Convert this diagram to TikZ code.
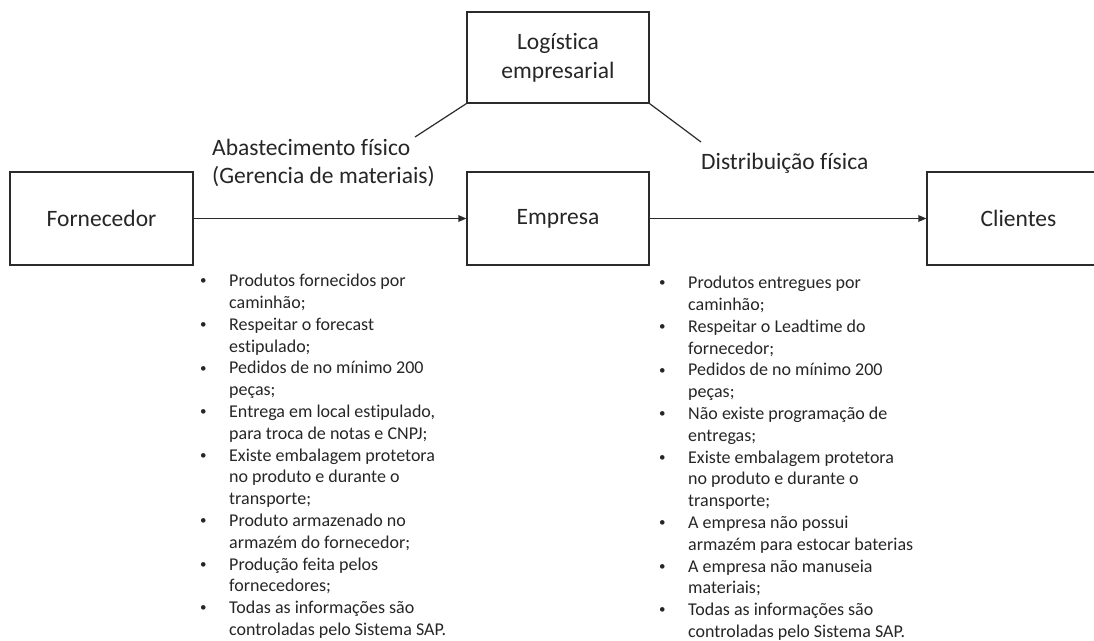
\documentclass[tikz,border=0pt]{standalone}
\usepackage{fontspec}
\setmainfont{Carlito}[Ligatures={NoCommon,NoRare}]
\usetikzlibrary{arrows.meta}
\definecolor{txt}{HTML}{262626}
\definecolor{edge}{HTML}{2B2B2B}
\newcommand{\lbul}{\makebox[30.5pt][l]{\hspace{1.5pt}\raisebox{1.8pt}{\fontsize{13}{13}\selectfont •}}}
\tikzset{
  box/.style={draw=edge, line width=1.2pt, inner sep=0pt, text=txt,
    font=\fontsize{23.5}{28.7}\selectfont, align=center},
  lbl/.style={inner sep=0pt, text=txt, font=\fontsize{23.5}{28.7}\selectfont, align=left},
  conn/.style={draw=edge, line width=1.2pt},
  arr/.style={conn, -{Triangle[length=8pt,width=6.5pt]}},
  lst/.style={inner sep=0pt, text=txt, font=\fontsize{18}{21.8}\selectfont, anchor=north west}
}
\begin{document}
\begin{tikzpicture}[x=1pt,y=-1pt]
\useasboundingbox (0,0) rectangle (1094,640);
\clip (0,0) rectangle (1094,640);
\fill[white] (0,0) rectangle (1094,640);

\node[box, minimum width=183pt, minimum height=93pt] (forn) at (101.5,218.5) {Fornecedor};
\node[box, minimum width=182pt, minimum height=93pt] (emp) at (558,218.5) {Empresa};
\node[box, minimum width=183pt, minimum height=93pt] (cli) at (1018.5,218.5) {Clientes};
\node[box, minimum width=182pt, minimum height=91pt] (log) at (558,57.5) {Logística\\empresarial};

\draw[arr] (forn.east) -- (emp.west);
\draw[arr] (emp.east) -- (cli.west);

\coordinate (a1) at (415,137);
\coordinate (a2) at (701,142);
\draw[conn] (log.south west) -- (a1);
\draw[conn] (log.south east) -- (a2);

\node[lbl, anchor=west] (abast) at (212,163) {Abastecimento físico\\(Gerencia de materiais)};
\node[lbl, anchor=base west] (dist) at (701,169) {Distribuição física};

\node[lst] (l1) at (198.5,271.2) {\begin{tabular}{@{}l@{}l@{}}
\lbul & Produtos fornecidos por\\
 & caminhão;\\
\lbul & Respeitar o forecast\\
 & estipulado;\\
\lbul & Pedidos de no mínimo 200\\
 & peças;\\
\lbul & Entrega em local estipulado,\\
 & para troca de notas e CNPJ;\\
\lbul & Existe embalagem protetora\\
 & no produto e durante o\\
 & transporte;\\
\lbul & Produto armazenado no\\
 & armazém do fornecedor;\\
\lbul & Produção feita pelos\\
 & fornecedores;\\
\lbul & Todas as informações são\\
 & controladas pelo Sistema SAP.
\end{tabular}};

\node[lst] (l2) at (657.5,273.2) {\begin{tabular}{@{}l@{}l@{}}
\lbul & Produtos entregues por\\
 & caminhão;\\
\lbul & Respeitar o Leadtime do\\
 & fornecedor;\\
\lbul & Pedidos de no mínimo 200\\
 & peças;\\
\lbul & Não existe programação de\\
 & entregas;\\
\lbul & Existe embalagem protetora\\
 & no produto e durante o\\
 & transporte;\\
\lbul & A empresa não possui\\
 & armazém para estocar baterias\\
\lbul & A empresa não manuseia\\
 & materiais;\\
\lbul & Todas as informações são\\
 & controladas pelo Sistema SAP.
\end{tabular}};
\end{tikzpicture}
\end{document}
